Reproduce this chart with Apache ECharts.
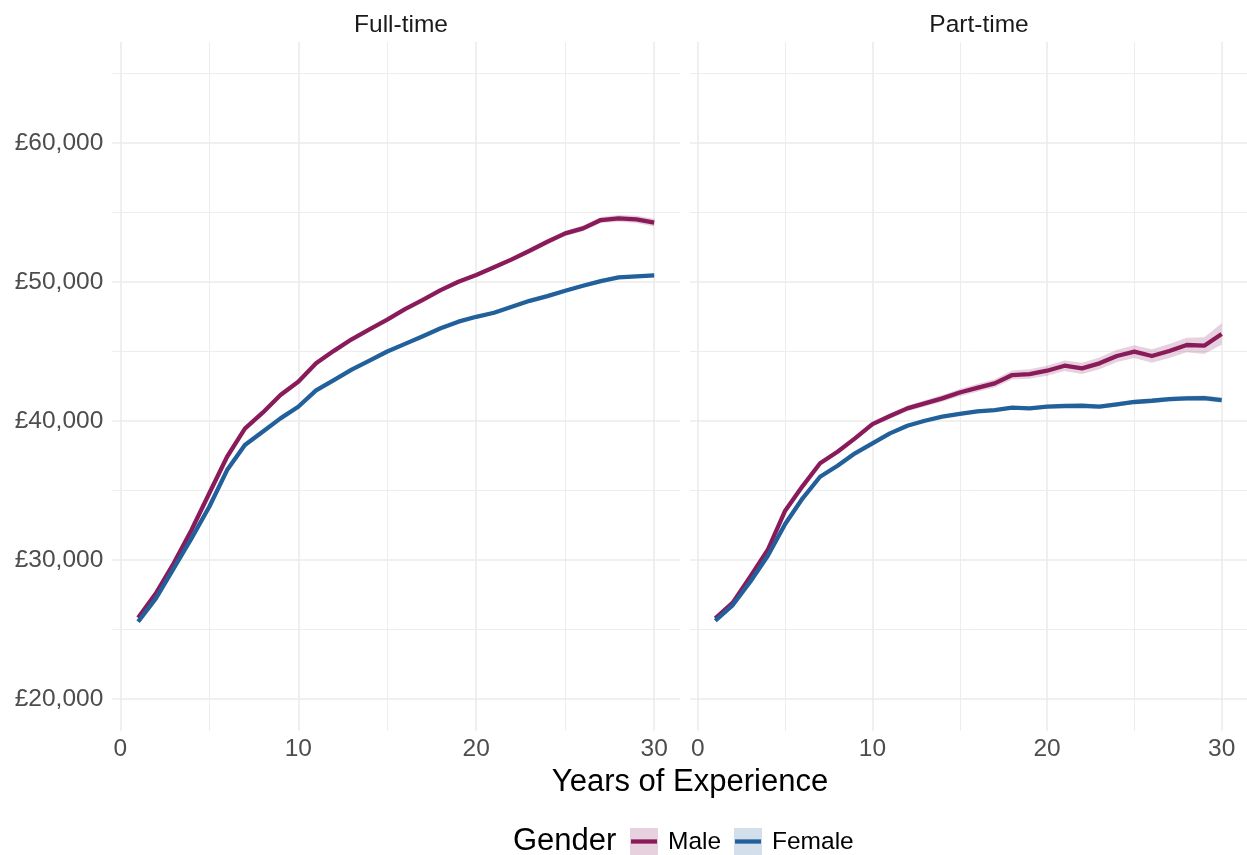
<!DOCTYPE html>
<html><head><meta charset="utf-8">
<script src="https://cdn.jsdelivr.net/npm/echarts@6/dist/echarts.min.js"></script>
<style>html,body{margin:0;padding:0;background:#fff}#chart{width:1247px;height:855px}</style>
</head><body><div id="chart"></div>
<script>
// ---- data ----
const years = [1,2,3,4,5,6,7,8,9,10,11,12,13,14,15,16,17,18,19,20,21,22,23,24,25,26,27,28,29,30];
const panels = ['Full-time', 'Part-time'];
const genders = ['Male', 'Female'];
const ftMale   = [25850,27600,29760,32160,34800,37430,39450,40600,41870,42830,44150,45050,45880,46600,47300,48050,48720,49420,50020,50500,51060,51630,52250,52900,53500,53860,54460,54580,54510,54270];
const ftFemale = [25560,27240,29400,31560,33830,36470,38270,39230,40190,41030,42200,42950,43700,44350,45000,45550,46100,46670,47150,47500,47790,48220,48650,48990,49370,49730,50070,50340,50410,50480];
const ptMale   = [25800,26930,28800,30720,33550,35320,36960,37790,38750,39780,40360,40910,41270,41630,42050,42380,42710,43310,43380,43620,43980,43790,44150,44680,44990,44680,45040,45470,45420,46260];
const ptFemale = [25630,26760,28440,30290,32590,34440,35990,36780,37680,38400,39110,39660,40020,40310,40520,40700,40790,40960,40910,41030,41080,41100,41030,41200,41370,41460,41580,41630,41650,41510];
// ribbon half-widths (confidence band)
const ftMaleSe   = [60,60,60,60,70,70,70,80,80,80,90,90,90,100,100,110,110,120,120,130,140,150,160,170,180,200,220,240,260,280];
const ftFemaleSe = [40,40,40,40,50,50,50,50,60,60,60,60,70,70,70,70,80,80,80,90,90,90,100,100,100,110,110,120,120,130];
const ptMaleSe   = [80,90,100,110,120,130,140,150,160,170,190,200,220,240,260,280,300,320,340,360,380,400,420,440,460,480,500,530,600,780];
const ptFemaleSe = [60,60,60,60,70,70,70,80,80,80,90,90,90,100,100,110,110,120,120,130,130,140,140,150,150,160,170,180,190,200];
const xMajor = [0,10,20,30];
const xMinor = [5,15,25];
const yMajor = [20000,30000,40000,50000,60000];
const yMinor = [25000,35000,45000,55000,65000];

// ---- style ----
const FONT = '"Liberation Sans", Arial, Helvetica, sans-serif';
const MALE = '#8A1B5A', FEMALE = '#21609A';
const MALE_FILL = 'rgba(138,27,90,0.2)', FEMALE_FILL = 'rgba(33,96,154,0.2)';
const GRID = '#EBEBEB';
const XMIN = -0.45, XMAX = 31.45, YMIN = 17720, YMAX = 67270;

const fmtMoney = v => '£' + String(v).replace(/\B(?=(\d{3})+(?!\d))/g, ',');

function xAxes(gi) {
  return [
    {type:'value', gridIndex:gi, min:XMIN, max:XMAX, axisLine:{show:false},
     axisTick:{show:false, customValues:xMajor},
     axisLabel:{show:true, customValues:xMajor, color:'#4D4D4D', fontSize:24.5, fontFamily:FONT, margin:6},
     splitLine:{show:true, lineStyle:{color:GRID, width:1.6}}},
    {type:'value', gridIndex:gi, min:XMIN, max:XMAX, axisLine:{show:false},
     axisTick:{show:false, customValues:xMinor},
     axisLabel:{show:false, customValues:xMinor},
     splitLine:{show:true, lineStyle:{color:GRID, width:0.9}}}
  ];
}
function yAxes(gi, labels) {
  return [
    {type:'value', gridIndex:gi, min:YMIN, max:YMAX, position:'left', axisLine:{show:false},
     axisTick:{show:false, customValues:yMajor},
     axisLabel:{show:labels, customValues:yMajor, color:'#4D4D4D', fontSize:24.5, fontFamily:FONT, margin:9, formatter:fmtMoney},
     splitLine:{show:true, lineStyle:{color:GRID, width:1.6}}},
    {type:'value', gridIndex:gi, min:YMIN, max:YMAX, position:'left', axisLine:{show:false},
     axisTick:{show:false, customValues:yMinor},
     axisLabel:{show:false, customValues:yMinor},
     splitLine:{show:true, lineStyle:{color:GRID, width:0.9}}}
  ];
}
// confidence ribbon as a polygon placed through the axis scales (api.coord)
function ribbon(vals, se, fill, xi, yi) {
  return {type:'custom', xAxisIndex:xi, yAxisIndex:yi, silent:true, z:1, clip:true,
    data: years.map((y,i)=>[y, vals[i]-se[i], vals[i]+se[i]]),
    encode:{x:0, y:[1,2]},
    renderItem: function(params, api) {
      if (params.dataIndexInside !== 0) return null;
      const upper = [], lower = [];
      for (let i = 0; i < years.length; i++) {
        upper.push(api.coord([years[i], vals[i]+se[i]]));
        lower.push(api.coord([years[i], vals[i]-se[i]]));
      }
      return {type:'polygon', shape:{points: upper.concat(lower.reverse())}, style:{fill:fill}};
    }};
}
function line(name, vals, color, xi, yi, z) {
  return {type:'line', name:name, xAxisIndex:xi, yAxisIndex:yi, z:z, silent:true,
    data: years.map((y,i)=>[y, vals[i]]), symbol:'none',
    lineStyle:{color:color, width:4.3, cap:'butt', join:'round'}};
}

const series = [
  ribbon(ftMale, ftMaleSe, MALE_FILL, 0, 0),
  ribbon(ftFemale, ftFemaleSe, FEMALE_FILL, 0, 0),
  ribbon(ptMale, ptMaleSe, MALE_FILL, 2, 2),
  ribbon(ptFemale, ptFemaleSe, FEMALE_FILL, 2, 2),
  line(genders[0], ftMale, MALE, 0, 0, 3), line(genders[1], ftFemale, FEMALE, 0, 0, 4),
  line(genders[0], ptMale, MALE, 2, 2, 3), line(genders[1], ptFemale, FEMALE, 2, 2, 4)
];

const chart = echarts.init(document.getElementById('chart'), null, {renderer:'canvas'});
chart.setOption({
  animation:false,
  backgroundColor:'#ffffff',
  title:[
    {text:panels[0], left:396, top:8, textAlign:'center', textStyle:{fontFamily:FONT, fontSize:24.5, fontWeight:'normal', color:'#1A1A1A'}},
    {text:panels[1], left:974, top:8, textAlign:'center', textStyle:{fontFamily:FONT, fontSize:24.5, fontWeight:'normal', color:'#1A1A1A'}},
    {text:'Years of Experience', left:685, top:762, textAlign:'center', textStyle:{fontFamily:FONT, fontSize:31, fontWeight:'normal', color:'#000000'}}
  ],
  grid:[
    {left:112.3, top:42, width:567.7, height:688.7, containLabel:false},
    {left:690, top:42, width:567.7, height:688.7, containLabel:false}
  ],
  xAxis:[].concat(xAxes(0), xAxes(1)),
  yAxis:[].concat(yAxes(0, true), yAxes(1, false)),
  series:series,
  graphic:[
    {type:'text', left:513, top:826, style:{text:'Gender', font:'31px ' + FONT, fill:'#000'}},
    {type:'rect', shape:{x:630, y:828, width:28, height:27}, style:{fill:MALE_FILL}},
    {type:'line', shape:{x1:631, y1:841.5, x2:657, y2:841.5}, style:{stroke:MALE, lineWidth:4.3}},
    {type:'text', left:668, top:830, style:{text:genders[0], font:'24.5px ' + FONT, fill:'#000'}},
    {type:'rect', shape:{x:734, y:828, width:28, height:27}, style:{fill:FEMALE_FILL}},
    {type:'line', shape:{x1:735, y1:841.5, x2:761, y2:841.5}, style:{stroke:FEMALE, lineWidth:4.3}},
    {type:'text', left:772, top:830, style:{text:genders[1], font:'24.5px ' + FONT, fill:'#000'}}
  ]
});
</script></body></html>
